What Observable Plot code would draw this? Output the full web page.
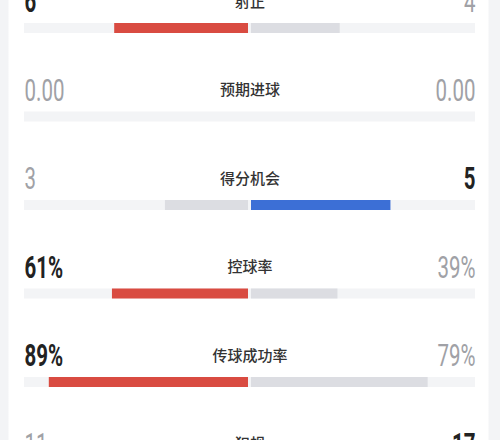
<!DOCTYPE html>
<html><head><meta charset="utf-8">
<script src="https://cdn.jsdelivr.net/npm/d3@7"></script>
<script src="https://cdn.jsdelivr.net/npm/@observablehq/plot@0.6"></script>
<style>
html,body{margin:0;padding:0;background:#fff;}
#chart svg{display:block;background:linear-gradient(to right,#f3f4f6 0,#f3f4f6 8px,#fff 9px,#fff 488px,#f3f4f6 489px);}
</style></head><body><div id="chart"></div>
<script>
const stats = ["射正", "预期进球", "得分机会", "控球率", "传球成功率", "犯规"];
const homeValues = [6, 0, 3, 61, 89, 11];
const awayValues = [4, 0, 5, 39, 79, 17];
const homeLabels = ["6", "0.00", "3", "61%", "89%", "11"];
const awayLabels = ["4", "0.00", "5", "39%", "79%", "17"];
const isPercent = [false, false, false, true, true, false];

const homeColor = "#d94b41", awayColor = "#3c6fd6", loseColor = "#dcdde2", trackColor = "#f3f4f6";
const winText = "#222222", loseText = "#a0a1a6";

const rows = stats.map((s, i) => {
  const h = homeValues[i], a = awayValues[i];
  const den = isPercent[i] ? 100 : (h + a);
  return {
    i, stat: s, h, a,
    hf: den ? h / den : 0, af: den ? a / den : 0,
    hLabel: homeLabels[i], aLabel: awayLabels[i],
    winner: h > a ? "home" : a > h ? "away" : "tie"
  };
});

const bh = 5 / 88.5;     // half bar thickness in row units
const ty = 0.298;        // text offset above bar in row units
const numFont = 'Roboto,"Liberation Sans",sans-serif';

const plot = Plot.plot({
  width: 500, height: 440,
  margin: 0,
  x: {domain: [-1, 1], range: [24, 475], axis: null},
  y: {domain: [0, 5], range: [28, 470.5], axis: null},
  color: {type: "identity"},
  marks: [
    Plot.rect(rows, {x1: () => -1, x2: () => 1, y1: d => d.i - bh, y2: d => d.i + bh, fill: trackColor}),
    Plot.rect(rows.filter(d => d.hf > 0), {x1: d => -d.hf, x2: () => 0, y1: d => d.i - bh, y2: d => d.i + bh,
      fill: d => d.winner === "home" ? homeColor : loseColor, insetRight: 1.5}),
    Plot.rect(rows.filter(d => d.af > 0), {x1: () => 0, x2: d => d.af, y1: d => d.i - bh, y2: d => d.i + bh,
      fill: d => d.winner === "away" ? awayColor : loseColor, insetLeft: 1.5}),
    Plot.text(rows.filter(d => d.winner === "home"), {x: () => -1, y: d => d.i - ty, text: "hLabel", textAnchor: "start",
      fill: winText, fontSize: 31, fontWeight: "bold", fontFamily: numFont}),
    Plot.text(rows.filter(d => d.winner !== "home"), {x: () => -1, y: d => d.i - ty, text: "hLabel", textAnchor: "start",
      fill: loseText, fontSize: 31, fontWeight: "normal", fontFamily: numFont}),
    Plot.text(rows.filter(d => d.winner === "away"), {x: () => 1, y: d => d.i - ty, text: "aLabel", textAnchor: "end",
      fill: winText, fontSize: 31, fontWeight: "bold", fontFamily: numFont}),
    Plot.text(rows.filter(d => d.winner !== "away"), {x: () => 1, y: d => d.i - ty, text: "aLabel", textAnchor: "end",
      fill: loseText, fontSize: 31, fontWeight: "normal", fontFamily: numFont}),
    Plot.text(rows, {x: () => 0, y: d => d.i - ty, text: "stat", textAnchor: "middle",
      fill: "#333333", fontSize: 15, fontWeight: 500, fontFamily: '"Noto Sans CJK SC",sans-serif'})
  ]
});

document.getElementById("chart").appendChild(plot);
plot.querySelectorAll('g[font-size="31"] text').forEach(t => {
  const w = t.getComputedTextLength();
  if (w > 0) {
    t.setAttribute("textLength", (w * 0.66).toFixed(1));
    t.setAttribute("lengthAdjust", "spacingAndGlyphs");
  }
});
</script>
</body></html>
